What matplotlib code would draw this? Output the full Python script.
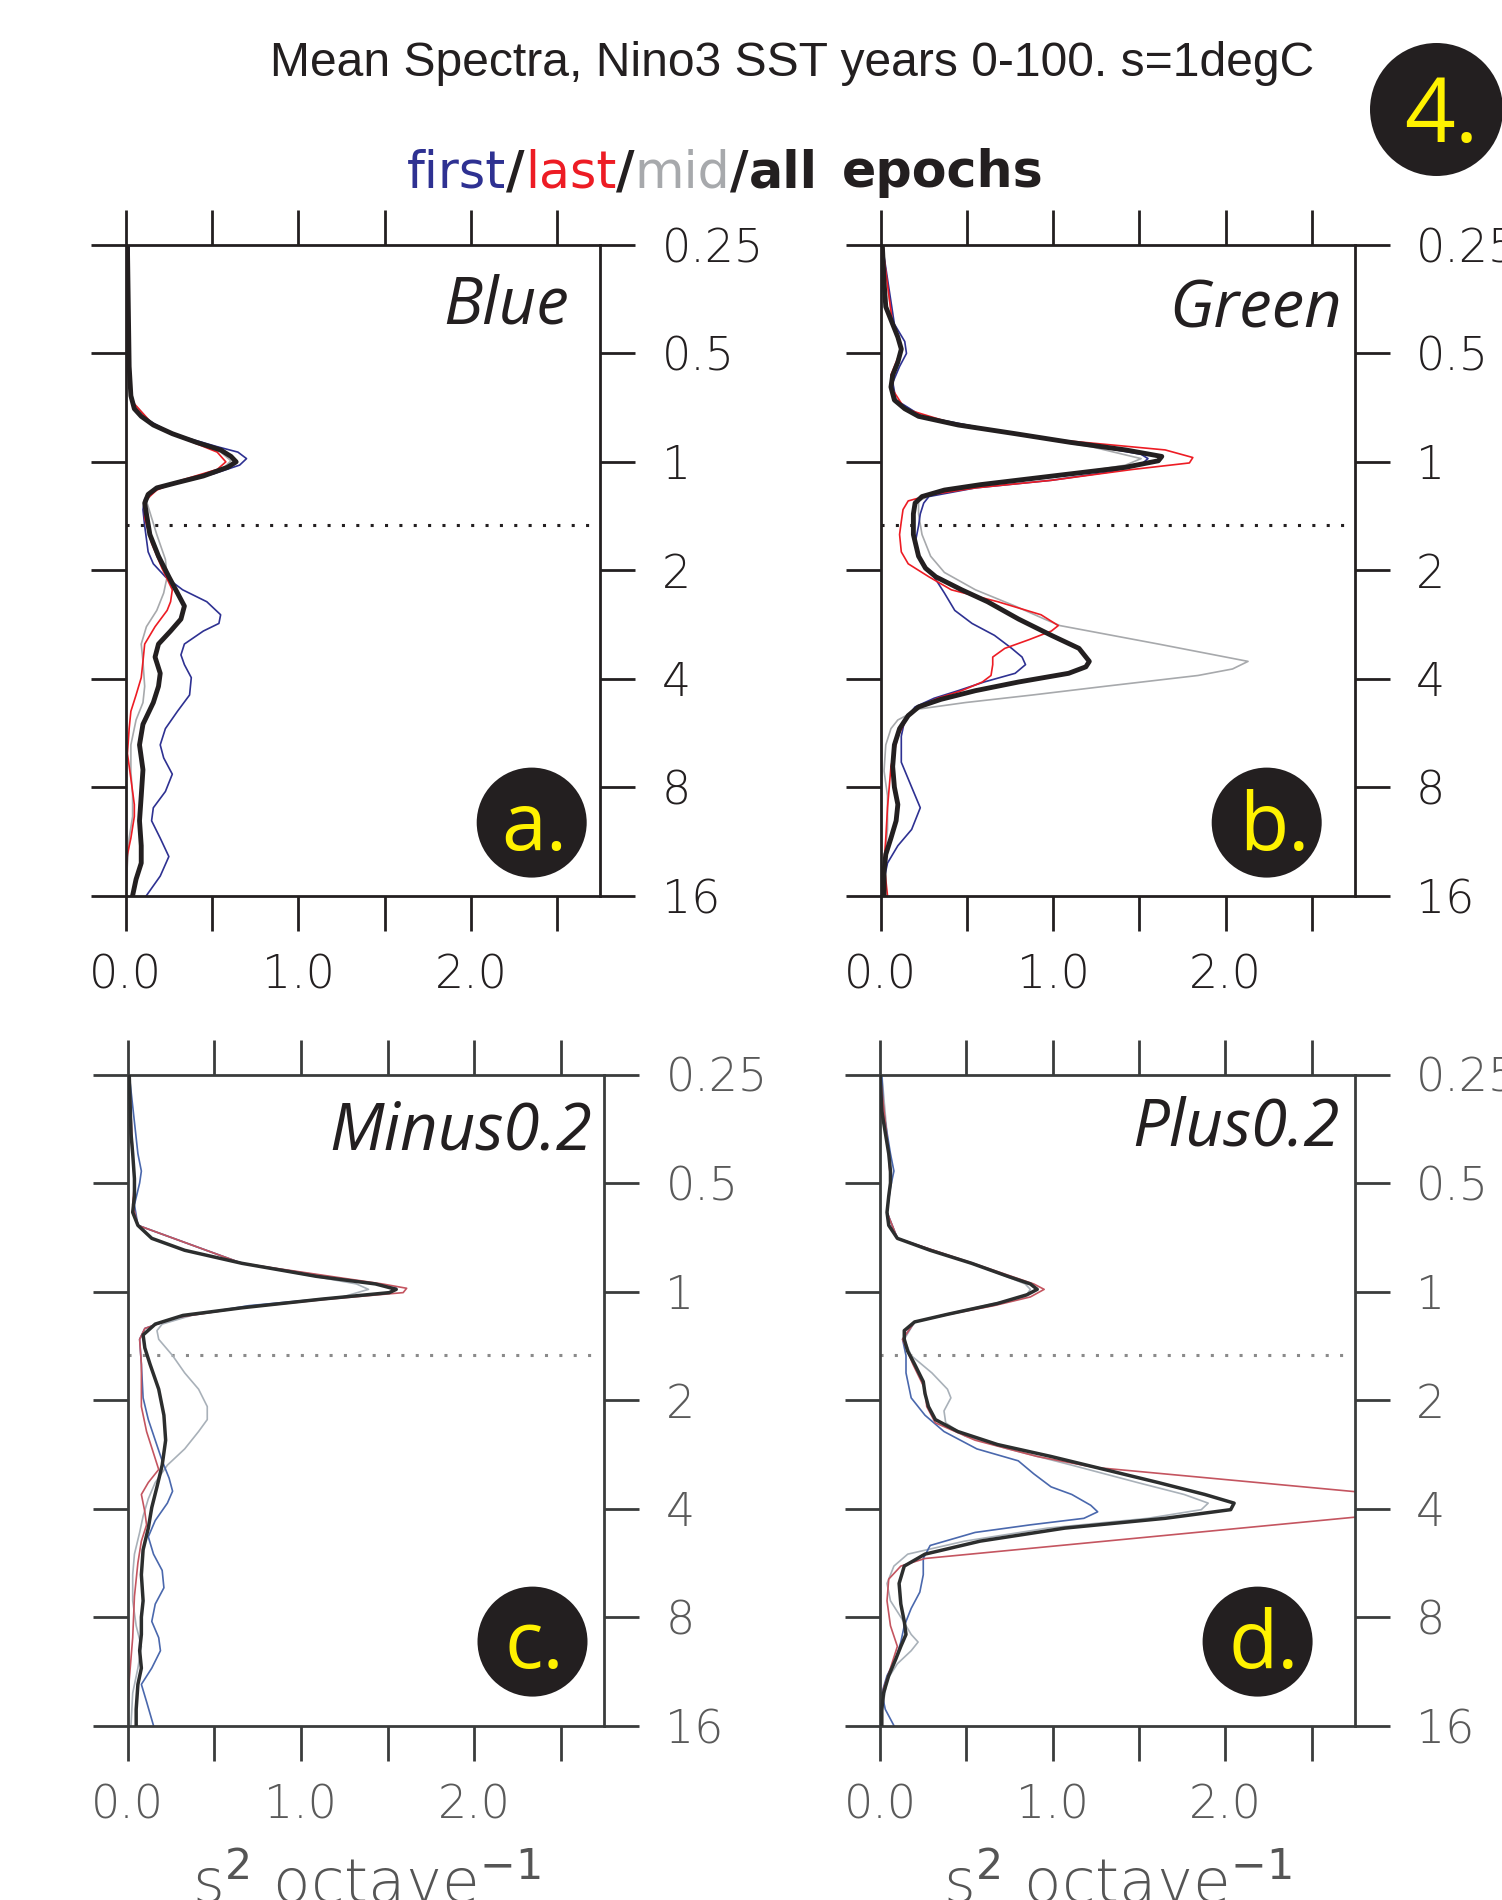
import numpy as np
import matplotlib
matplotlib.use("Agg")
import matplotlib.pyplot as plt
from matplotlib.patches import Ellipse

# ---------------- data (log2 of period in years, power in s^2/octave) ----------------
A_FIRST = [(-2.00,0.02),(-0.88,0.02),(-0.57,0.03),(-0.42,0.09),(-0.26,0.27),(-0.14,0.53),(-0.09,0.65),(-0.03,0.70),(0.03,0.66),(0.11,0.51),(0.19,0.31),(0.26,0.16),(0.34,0.11),(0.44,0.10),(0.59,0.11),(0.83,0.13),(0.94,0.16),(1.06,0.23),(1.18,0.33),(1.29,0.47),(1.41,0.55),(1.49,0.54),(1.56,0.45),(1.68,0.34),(1.78,0.32),(1.87,0.34),(1.99,0.38),(2.15,0.37),(2.30,0.30),(2.46,0.23),(2.61,0.20),(2.73,0.22),(2.88,0.27),(3.04,0.23),(3.19,0.16),(3.31,0.15),(3.47,0.20),(3.64,0.25),(3.82,0.20),(4.00,0.12)]
A_LAST = [(-2.00,0.01),(-0.57,0.03),(-0.34,0.16),(-0.18,0.39),(-0.09,0.53),(0.00,0.58),(0.07,0.53),(0.17,0.32),(0.26,0.18),(0.36,0.11),(0.52,0.11),(0.75,0.15),(0.98,0.21),(1.18,0.27),(1.29,0.26),(1.37,0.24),(1.52,0.17),(1.68,0.11),(1.84,0.10),(1.99,0.09),(2.15,0.06),(2.30,0.03),(2.46,0.02),(2.69,0.01),(2.92,0.03),(3.16,0.05),(3.27,0.05),(3.47,0.03),(3.62,0.01),(3.78,0.00),(4.00,0.00)]
A_MID = [(-2.00,0.01),(-0.57,0.03),(-0.34,0.16),(-0.18,0.41),(-0.09,0.55),(-0.01,0.61),(0.05,0.57),(0.13,0.44),(0.24,0.18),(0.36,0.12),(0.67,0.18),(0.90,0.23),(1.06,0.24),(1.21,0.22),(1.37,0.18),(1.52,0.12),(1.68,0.09),(1.84,0.10),(2.07,0.11),(2.22,0.10),(2.38,0.06),(2.61,0.03),(2.85,0.03),(3.08,0.04),(3.27,0.04),(3.47,0.02),(3.70,0.01),(4.00,0.00)]
A_ALL = [(-2.00,0.01),(-0.88,0.02),(-0.61,0.03),(-0.49,0.05),(-0.42,0.09),(-0.34,0.16),(-0.26,0.27),(-0.18,0.41),(-0.11,0.55),(-0.05,0.61),(0.00,0.64),(0.05,0.59),(0.13,0.45),(0.19,0.30),(0.24,0.18),(0.30,0.13),(0.38,0.11),(0.48,0.12),(0.67,0.14),(0.87,0.19),(1.06,0.25),(1.21,0.30),(1.33,0.34),(1.45,0.32),(1.56,0.26),(1.68,0.19),(1.80,0.17),(1.95,0.20),(2.07,0.19),(2.22,0.16),(2.42,0.10),(2.61,0.08),(2.84,0.10),(3.08,0.09),(3.31,0.08),(3.54,0.09),(3.70,0.09),(3.85,0.06),(4.00,0.04)]

B_FIRST = [(-2.00,0.01),(-1.27,0.08),(-1.11,0.14),(-1.00,0.15),(-0.88,0.11),(-0.73,0.07),(-0.57,0.09),(-0.42,0.24),(-0.26,0.76),(-0.14,1.26),(-0.07,1.51),(-0.03,1.55),(0.01,1.52),(0.09,1.34),(0.17,0.99),(0.24,0.55),(0.32,0.28),(0.38,0.25),(0.48,0.23),(0.59,0.22),(0.75,0.20),(0.90,0.23),(1.06,0.31),(1.21,0.37),(1.37,0.43),(1.49,0.53),(1.60,0.66),(1.72,0.76),(1.80,0.82),(1.87,0.84),(1.95,0.78),(2.03,0.60),(2.11,0.45),(2.18,0.31),(2.26,0.20),(2.38,0.14),(2.53,0.12),(2.77,0.12),(3.00,0.18),(3.19,0.23),(3.39,0.18),(3.54,0.10),(3.70,0.04),(3.85,0.02),(4.00,0.01)]
B_LAST = [(-2.00,0.01),(-1.27,0.07),(-1.04,0.12),(-0.80,0.06),(-0.69,0.06),(-0.49,0.14),(-0.34,0.45),(-0.22,0.91),(-0.11,1.65),(-0.04,1.81),(0.01,1.79),(0.07,1.46),(0.17,0.99),(0.24,0.55),(0.30,0.30),(0.36,0.16),(0.44,0.13),(0.55,0.12),(0.67,0.11),(0.83,0.12),(0.94,0.16),(1.06,0.28),(1.18,0.41),(1.29,0.68),(1.41,0.93),(1.51,1.03),(1.56,0.99),(1.64,0.86),(1.72,0.72),(1.80,0.65),(1.87,0.65),(1.97,0.64),(2.03,0.59),(2.11,0.47),(2.18,0.33),(2.26,0.22),(2.34,0.16),(2.53,0.10),(2.81,0.06),(3.19,0.04),(3.47,0.03),(3.70,0.02),(4.00,0.04)]
B_MID = [(-2.00,0.01),(-1.27,0.07),(-1.04,0.12),(-0.80,0.07),(-0.57,0.08),(-0.42,0.24),(-0.26,0.76),(-0.14,1.22),(-0.03,1.51),(0.03,1.42),(0.13,1.03),(0.21,0.64),(0.28,0.33),(0.36,0.22),(0.48,0.22),(0.67,0.24),(0.87,0.29),(1.02,0.37),(1.18,0.55),(1.33,0.78),(1.45,0.95),(1.51,1.04),(1.68,1.61),(1.84,2.13),(1.91,2.04),(1.97,1.84),(2.07,1.30),(2.15,0.88),(2.22,0.49),(2.28,0.22),(2.38,0.10),(2.46,0.06),(2.61,0.03),(2.85,0.02),(3.08,0.04),(3.39,0.04),(3.70,0.02),(4.00,0.01)]
B_ALL = [(-2.00,0.01),(-1.66,0.02),(-1.43,0.03),(-1.27,0.07),(-1.15,0.10),(-1.04,0.12),(-0.92,0.10),(-0.80,0.07),(-0.69,0.06),(-0.57,0.08),(-0.49,0.14),(-0.42,0.22),(-0.34,0.45),(-0.26,0.78),(-0.18,1.10),(-0.11,1.42),(-0.05,1.63),(-0.01,1.61),(0.05,1.42),(0.13,1.00),(0.21,0.58),(0.26,0.37),(0.32,0.24),(0.38,0.20),(0.48,0.19),(0.67,0.19),(0.87,0.22),(0.98,0.26),(1.06,0.32),(1.18,0.47),(1.29,0.62),(1.45,0.80),(1.60,0.99),(1.72,1.15),(1.84,1.21),(1.89,1.19),(1.95,1.09),(2.03,0.80),(2.11,0.55),(2.19,0.35),(2.26,0.22),(2.34,0.16),(2.46,0.11),(2.61,0.08),(2.81,0.07),(3.00,0.08),(3.16,0.10),(3.31,0.09),(3.47,0.06),(3.62,0.03),(3.78,0.02),(4.00,0.02)]

C_FIRST = [(-2.00,0.01),(-1.27,0.06),(-1.11,0.08),(-1.00,0.07),(-0.80,0.04),(-0.61,0.06),(-0.26,0.66),(-0.07,1.43),(-0.03,1.55),(0.01,1.51),(0.13,0.70),(0.24,0.28),(0.34,0.10),(0.44,0.07),(0.67,0.08),(0.98,0.09),(1.18,0.12),(1.37,0.16),(1.56,0.20),(1.72,0.24),(1.84,0.26),(1.95,0.23),(2.11,0.16),(2.26,0.12),(2.42,0.15),(2.57,0.20),(2.73,0.21),(2.88,0.16),(3.04,0.14),(3.19,0.18),(3.31,0.19),(3.47,0.14),(3.62,0.08),(3.78,0.11),(4.00,0.15)]
C_LAST = [(-2.00,0.01),(-1.27,0.03),(-1.00,0.04),(-0.80,0.03),(-0.61,0.06),(-0.26,0.66),(-0.07,1.47),(-0.03,1.61),(0.01,1.59),(0.07,1.16),(0.15,0.66),(0.24,0.28),(0.34,0.10),(0.44,0.07),(0.67,0.08),(0.90,0.08),(1.06,0.08),(1.29,0.11),(1.49,0.15),(1.64,0.18),(1.76,0.12),(1.87,0.08),(2.03,0.10),(2.15,0.11),(2.30,0.08),(2.50,0.06),(2.81,0.04),(3.19,0.03),(3.58,0.01),(4.00,0.00)]
C_MID = [(-2.00,0.01),(-1.27,0.03),(-1.00,0.04),(-0.73,0.03),(-0.61,0.06),(-0.26,0.66),(-0.07,1.32),(-0.02,1.39),(0.05,1.24),(0.13,0.74),(0.22,0.37),(0.30,0.20),(0.36,0.17),(0.44,0.18),(0.59,0.26),(0.75,0.33),(0.90,0.41),(1.06,0.46),(1.18,0.46),(1.29,0.41),(1.45,0.33),(1.60,0.23),(1.76,0.16),(1.91,0.12),(2.07,0.09),(2.22,0.07),(2.42,0.04),(2.61,0.03),(2.85,0.03),(3.08,0.05),(3.27,0.08),(3.47,0.06),(3.70,0.03),(4.00,0.02)]
C_ALL = [(-2.00,0.01),(-1.46,0.02),(-1.27,0.03),(-1.04,0.04),(-0.88,0.04),(-0.73,0.03),(-0.61,0.06),(-0.49,0.14),(-0.38,0.33),(-0.26,0.66),(-0.14,1.09),(-0.07,1.43),(-0.02,1.55),(0.01,1.51),(0.07,1.12),(0.15,0.66),(0.22,0.32),(0.30,0.16),(0.40,0.09),(0.52,0.10),(0.67,0.13),(0.90,0.18),(1.14,0.21),(1.37,0.22),(1.60,0.20),(1.80,0.17),(1.99,0.14),(2.18,0.12),(2.38,0.09),(2.61,0.08),(2.85,0.09),(3.00,0.08),(3.16,0.08),(3.31,0.07),(3.47,0.08),(3.62,0.06),(3.85,0.05),(4.00,0.05)]

D_FIRST = [(-2.00,0.01),(-1.66,0.02),(-1.27,0.06),(-1.11,0.08),(-0.96,0.06),(-0.73,0.04),(-0.49,0.10),(-0.26,0.53),(-0.14,0.74),(-0.07,0.87),(-0.02,0.91),(0.03,0.85),(0.11,0.68),(0.21,0.39),(0.28,0.20),(0.44,0.13),(0.59,0.15),(0.75,0.15),(0.98,0.18),(1.14,0.26),(1.29,0.37),(1.45,0.56),(1.56,0.80),(1.68,0.89),(1.80,0.99),(1.87,1.11),(1.97,1.22),(2.03,1.26),(2.09,1.18),(2.15,0.87),(2.22,0.55),(2.34,0.29),(2.46,0.25),(2.61,0.25),(2.77,0.23),(2.92,0.18),(3.08,0.14),(3.23,0.12),(3.39,0.09),(3.54,0.04),(3.70,0.01),(3.85,0.03),(4.00,0.08)]
D_LAST = [(-2.00,0.00),(-1.27,0.05),(-1.00,0.06),(-0.73,0.04),(-0.49,0.10),(-0.26,0.54),(-0.07,0.89),(-0.02,0.95),(0.05,0.87),(0.13,0.66),(0.21,0.40),(0.28,0.20),(0.44,0.13),(0.67,0.19),(0.90,0.26),(1.06,0.27),(1.21,0.32),(1.37,0.55),(1.52,0.91),(1.62,1.24),(1.96,3.53),(2.46,0.26),(2.53,0.12),(2.65,0.05),(2.85,0.04),(3.08,0.06),(3.27,0.10),(3.47,0.06),(3.66,0.02),(4.00,0.00)]
D_MID = [(-2.00,0.01),(-1.27,0.05),(-1.00,0.06),(-0.73,0.04),(-0.49,0.10),(-0.26,0.53),(-0.14,0.73),(-0.07,0.84),(-0.02,0.87),(0.05,0.84),(0.11,0.66),(0.21,0.38),(0.28,0.20),(0.44,0.14),(0.59,0.18),(0.75,0.30),(0.90,0.39),(0.98,0.41),(1.10,0.37),(1.21,0.38),(1.33,0.49),(1.45,0.74),(1.60,1.11),(1.76,1.49),(1.87,1.76),(1.95,1.90),(2.01,1.86),(2.09,1.55),(2.18,0.97),(2.30,0.49),(2.42,0.16),(2.53,0.08),(2.69,0.04),(2.85,0.06),(3.00,0.12),(3.16,0.18),(3.23,0.22),(3.31,0.18),(3.43,0.10),(3.58,0.04),(3.78,0.02),(4.00,0.00)]
D_ALL = [(-2.00,0.00),(-1.66,0.01),(-1.27,0.05),(-1.11,0.06),(-1.00,0.06),(-0.88,0.05),(-0.73,0.04),(-0.61,0.05),(-0.49,0.10),(-0.38,0.29),(-0.26,0.53),(-0.14,0.74),(-0.07,0.87),(-0.02,0.91),(0.03,0.85),(0.11,0.68),(0.21,0.39),(0.28,0.20),(0.36,0.14),(0.44,0.14),(0.55,0.16),(0.67,0.20),(0.83,0.25),(0.94,0.26),(1.06,0.28),(1.18,0.32),(1.29,0.45),(1.41,0.68),(1.52,0.99),(1.64,1.30),(1.76,1.61),(1.87,1.88),(1.95,2.05),(2.01,2.03),(2.09,1.65),(2.18,1.07),(2.30,0.58),(2.42,0.26),(2.53,0.14),(2.69,0.11),(2.88,0.12),(3.04,0.14),(3.16,0.15),(3.27,0.12),(3.39,0.09),(3.54,0.05),(3.70,0.02),(3.85,0.01),(4.00,0.01)]

PANEL_NAMES = ["Blue", "Green", "Minus0.2", "Plus0.2"]
PANEL_TAGS = ["a.", "b.", "c.", "d."]
PANEL_SERIES = [
    {"mid": A_MID, "first": A_FIRST, "last": A_LAST, "all": A_ALL},
    {"mid": B_MID, "first": B_FIRST, "last": B_LAST, "all": B_ALL},
    {"mid": C_MID, "first": C_FIRST, "last": C_LAST, "all": C_ALL},
    {"mid": D_MID, "first": D_FIRST, "last": D_LAST, "all": D_ALL},
]
PERIOD_TICKS = [0.25, 0.5, 1, 2, 4, 8, 16]
PERIOD_LABELS = ["0.25", "0.5", "1", "2", "4", "8", "16"]
POWER_TICKS = [0.0, 0.5, 1.0, 1.5, 2.0, 2.5]
POWER_LABELS = ["0.0", "", "1.0", "", "2.0", ""]
POWER_MAX = 2.75
DIVIDER_PERIOD = 1.5
DIVIDER_END = 2.7
TITLE = "Mean Spectra, Nino3 SST years 0-100. s=1degC"

# ---------------- layout / styles ----------------
W, H, DPI = 1502, 1900, 100
fig = plt.figure(figsize=(W / DPI, H / DPI), dpi=DPI)
fig.patch.set_facecolor("white")


def px_rect(left, top, right, bottom):
    return [left / W, 1 - bottom / H, (right - left) / W, (bottom - top) / H]


RECTS = [px_rect(125.7, 245, 600.4, 895.6), px_rect(880.6, 245, 1355, 895.6),
         px_rect(127.5, 1074.5, 604.3, 1725.6), px_rect(880.1, 1074.5, 1355, 1725.6)]

UPPER = dict(spine="#231f20", label="#231f20", all="#231f20", first="#2e3192",
             last="#ed1c24", mid="#a7a9ac", dot="#231f20", lw_all=3.5, lw_thin=1.2)
LOWER = dict(spine="#3a3c3c", label="#5a5a5a", all="#2c2e2e", first="#4a68ad",
             last="#c45560", mid="#a9b1b9", dot="#8a8a8a", lw_all=2.5, lw_thin=1.2)

TICK_FONT = dict(family="DejaVu Sans", weight="light")

for i, rect in enumerate(RECTS):
    st = UPPER if i < 2 else LOWER
    ax = fig.add_axes(rect)
    ser = PANEL_SERIES[i]
    for key in ["mid", "first", "last", "all"]:
        arr = np.array(ser[key])
        period = 2.0 ** arr[:, 0]
        power = arr[:, 1]
        lw = st["lw_all"] if key == "all" else st["lw_thin"]
        ax.plot(power, period, color=st[key], lw=lw, solid_joinstyle="round",
                zorder=3 if key == "all" else 2)
    ax.hlines(DIVIDER_PERIOD, 0.0, DIVIDER_END, colors=st["dot"], lw=2.2,
              linestyles=[(0, (1.0, 3.7))], zorder=1)
    ax.set_yscale("log", base=2)
    ax.set_ylim(16, 0.25)
    ax.set_xlim(0, POWER_MAX)
    ax.set_yticks(PERIOD_TICKS)
    ax.set_yticklabels(PERIOD_LABELS)
    ax.yaxis.set_minor_locator(matplotlib.ticker.NullLocator())
    ax.set_xticks(POWER_TICKS)
    ax.set_xticklabels(POWER_LABELS)
    for sp in ax.spines.values():
        sp.set_color(st["spine"])
        sp.set_linewidth(2.0)
    ax.tick_params(axis="both", which="major", direction="out", length=25, width=2.0,
                   color=st["spine"], top=True, bottom=True, left=True, right=True,
                   labelleft=False, labelright=True, labeltop=False, labelbottom=True,
                   labelsize=33, labelcolor=st["label"])
    ax.tick_params(axis="x", pad=17)
    ax.tick_params(axis="y", pad=19)
    for lab in ax.get_xticklabels() + ax.get_yticklabels():
        lab.set_fontfamily(TICK_FONT["family"])
        lab.set_fontweight(TICK_FONT["weight"])

renderer = fig.canvas.get_renderer()

# ---------------- title ----------------
t = fig.text(792 / W, 1 - 76 / H, TITLE, ha="center", va="baseline", fontsize=34,
             family="Liberation Sans", color="#231f20")
w = t.get_window_extent(renderer=renderer).width
t.set_fontsize(34 * 1043 / w)

# ---------------- subtitle ----------------
pieces = [("first", "#2e3192", "normal", 0), ("/", "#231f20", "bold", 0),
          ("last", "#ed1c24", "normal", 0), ("/", "#231f20", "bold", 0),
          ("mid", "#a7a9ac", "normal", 0), ("/", "#231f20", "bold", 0),
          ("all", "#231f20", "bold", 24), ("epochs", "#231f20", "bold", 0)]
SUB_LEFT, SUB_RIGHT, SUB_BASE = 407.0, 1046.0, 187.0


def layout_subtitle(size, draw):
    x = SUB_LEFT
    for txt, col, wt, gap in pieces:
        tt = fig.text(x / W, 1 - SUB_BASE / H, txt, ha="left", va="baseline",
                      fontsize=size, family="DejaVu Sans", weight=wt, color=col)
        x += tt.get_window_extent(renderer=renderer).width + gap
        if not draw:
            tt.remove()
    return x - SUB_LEFT


total = layout_subtitle(34, False)
layout_subtitle(34 * (SUB_RIGHT - SUB_LEFT) / total, True)

# ---------------- panel titles ----------------
TITLE_POS = [(569, 324), (1342, 328), (592, 1150), (1340, 1145)]
for name, (xr, yb) in zip(PANEL_NAMES, TITLE_POS):
    fig.text(xr / W, 1 - yb / H, name, ha="right", va="baseline", fontsize=47,
             family="Open Sans", style="italic", color="#231f20")

# ---------------- badges ----------------
def badge(cx, cy, r, label, tx, ty, size):
    fig.add_artist(Ellipse((cx / W, 1 - cy / H), 2 * r / W, 2 * r / H,
                           transform=fig.transFigure, facecolor="#231f20",
                           edgecolor="none", zorder=5))
    fig.text(tx / W, 1 - ty / H, label, ha="center", va="baseline", fontsize=size,
             family="Open Sans", color="#fff200", zorder=6)

badge(1436.5, 109.5, 66.5, "4.", 1441, 142, 64)
BADGES = [(531.7, 822.6, 534, 850), (1266.7, 822.6, 1274, 850),
          (532.5, 1641.6, 534, 1668), (1257.6, 1641.6, 1264, 1668)]
for tag, (cx, cy, tx, ty) in zip(PANEL_TAGS, BADGES):
    badge(cx, cy, 55, tag, tx, ty, 58)

# ---------------- lower x-axis labels (cut by the page edge) ----------------
for cx in (366, 1117):
    fig.text(cx / W, 1 - 1903 / H, r"s$^2$ octave$^{-1}$", ha="center", va="baseline",
             fontsize=44, family="DejaVu Sans", weight="light", color="#555555")

fig.savefig("out.png", dpi=DPI, facecolor="white")
